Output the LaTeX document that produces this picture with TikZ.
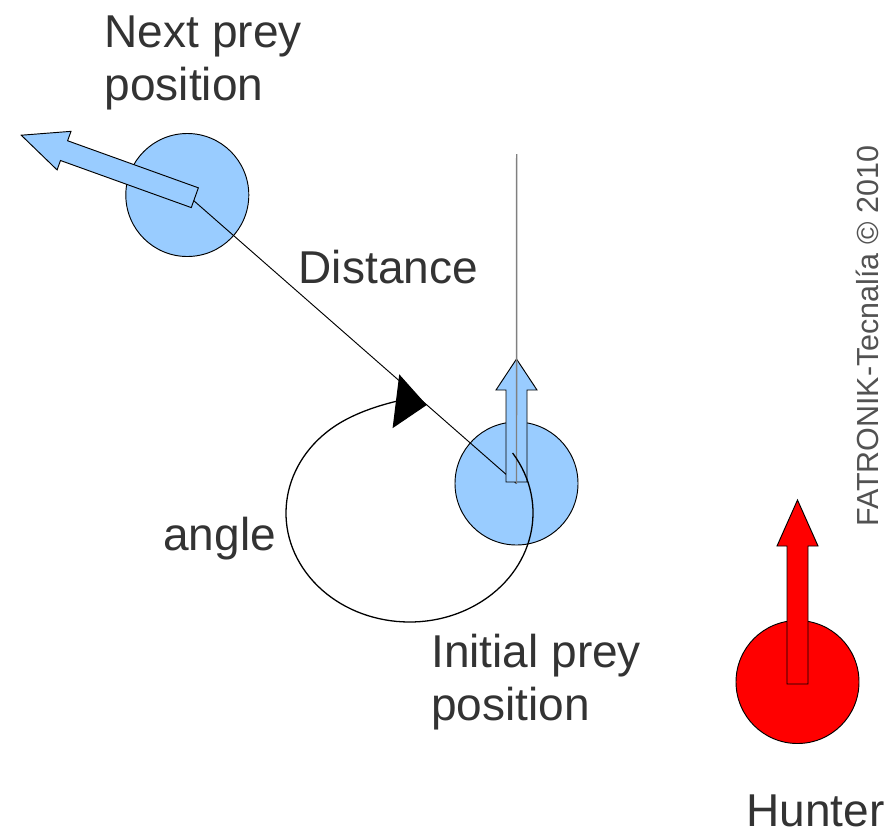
\documentclass[tikz,border=0pt]{standalone}
\usepackage{fontspec}
\setmainfont{Liberation Sans}
\usetikzlibrary{arrows.meta}

\definecolor{preyblue}{HTML}{99CCFF}
\definecolor{hunterred}{HTML}{FF0000}
\definecolor{textgray}{HTML}{333333}

\tikzset{
  body/.style={circle, draw, line width=0.8pt, minimum size=3.69cm, inner sep=0pt},
  caption/.style={text=textgray, font=\fontsize{39.3}{45.2}\selectfont, align=left, inner sep=0pt, anchor=base west},
  % block arrow along +x: tail / head base / tip
  pics/heading/.style args={#1/#2/#3}{code={
    \draw[pic actions] (#1,-10.5) -- (#2,-10.5) -- (#2,-20.5) -- (#3,0)
      -- (#2,20.5) -- (#2,10.5) -- (#1,10.5) -- cycle;
  }},
}

\begin{document}
\begin{tikzpicture}[x=0.03cm, y=-0.03cm]
\useasboundingbox (0,0) rectangle (891,831);

% bodies
\node[body, fill=preyblue] (next) at (187.3,195) {};
\node[body, fill=preyblue] (init) at (516.5,483.5) {};
\node[body, fill=hunterred] (hunter) at (797.5,682) {};

\draw[line width=0.8pt] (next.center) -- (init.center);

% headings
\pic[draw, fill=preyblue, line width=0.8pt, rotate=160.2] at (next.center) {heading=-8/131/176.5};
\pic[draw, fill=preyblue, line width=0.8pt, rotate=90] at (init.center) {heading=1.5/93.5/124.5};
\pic[draw, fill=hunterred, line width=0.8pt, rotate=90] at (hunter.center) {heading=-2/136/182};

\coordinate (ref) at (516.7,154);
\draw[gray, line width=1.2pt] (init.center) -- (ref);

% turning angle
\coordinate (pivot) at (409.5,513);
\draw[line width=1.1pt, -{Triangle[length=0.93cm, width=1.62cm]}]
  ([shift={(-33.4:123.5 and 109)}]pivot) arc[start angle=-33.4, end angle=278, x radius=123.5, y radius=109];

% labels (base = last line)
\node[caption] (nextlbl) at (104.5,100) {Next prey\\position};
\node[caption] (distlbl) at (298.5,283) {Distance};
\node[caption] (anglelbl) at (163,550) {angle};
\node[caption] (initlbl) at (431,720) {Initial prey\\position};
\node[caption] (hunterlbl) at (746,826) {Hunter};

\node[rotate=90, anchor=base west, inner sep=0pt, text=textgray!85, font=\fontsize{26}{30}\selectfont] (mark) at (878,527) {FATRONIK-Tecnalía © 2010};
\end{tikzpicture}
\end{document}
